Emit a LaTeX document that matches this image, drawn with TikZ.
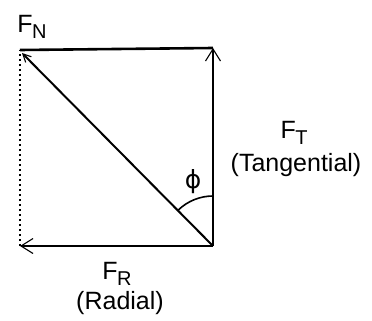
\documentclass[tikz,border=0pt]{standalone}
\usepackage{fontspec}
\setmainfont{Liberation Sans}
\newfontfamily\symfont{DejaVu Sans}
\usetikzlibrary{arrows.meta,calc}
\tikzset{
  vec/.style={line width=2pt, -{Straight Barb[length=12pt,width=15pt,line width=1.1pt]}},
  lbl/.style={inner sep=0pt, font=\fontsize{25}{28}\selectfont},
}
\newcommand{\Fsub}[1]{F\kern-0.5pt\raisebox{-0.45ex}{\fontsize{20}{21}\selectfont #1}}
\begin{document}
\begin{tikzpicture}[x=1pt,y=-1pt]
\useasboundingbox (0,0) rectangle (372,321);
\coordinate (O) at (213,246);
\coordinate (T) at (213,48);
\coordinate (R) at (20,246);
\coordinate (N) at (20,50);
\draw[line width=1.6pt, dash pattern=on 2pt off 3pt] (R) -- (N);
\draw[line width=2.6pt] (N) -- (T);
\draw[vec] (O) -- (T);
\draw[vec] (O) -- (R);
\draw[line width=2pt, -{Straight Barb[length=8pt,width=8pt,line width=1.1pt]}] (O) -- (22,53);
\draw[line width=1.6pt] ($(O)+(-134:50)$) arc[start angle=-134, end angle=-90, radius=50];
\node[lbl] (fn) at (32,27) {\Fsub{N}};
\node[lbl] (ft) at (294,133) {\Fsub{T}};
\node[lbl] (tg) at (296,165) {(Tangential)};
\node[lbl] (phi) at (193,182) {\symfont ϕ};
\node[lbl] (fr) at (117,274) {\Fsub{R}};
\node[lbl] (rd) at (120,303) {(Radial)};
\end{tikzpicture}
\end{document}
